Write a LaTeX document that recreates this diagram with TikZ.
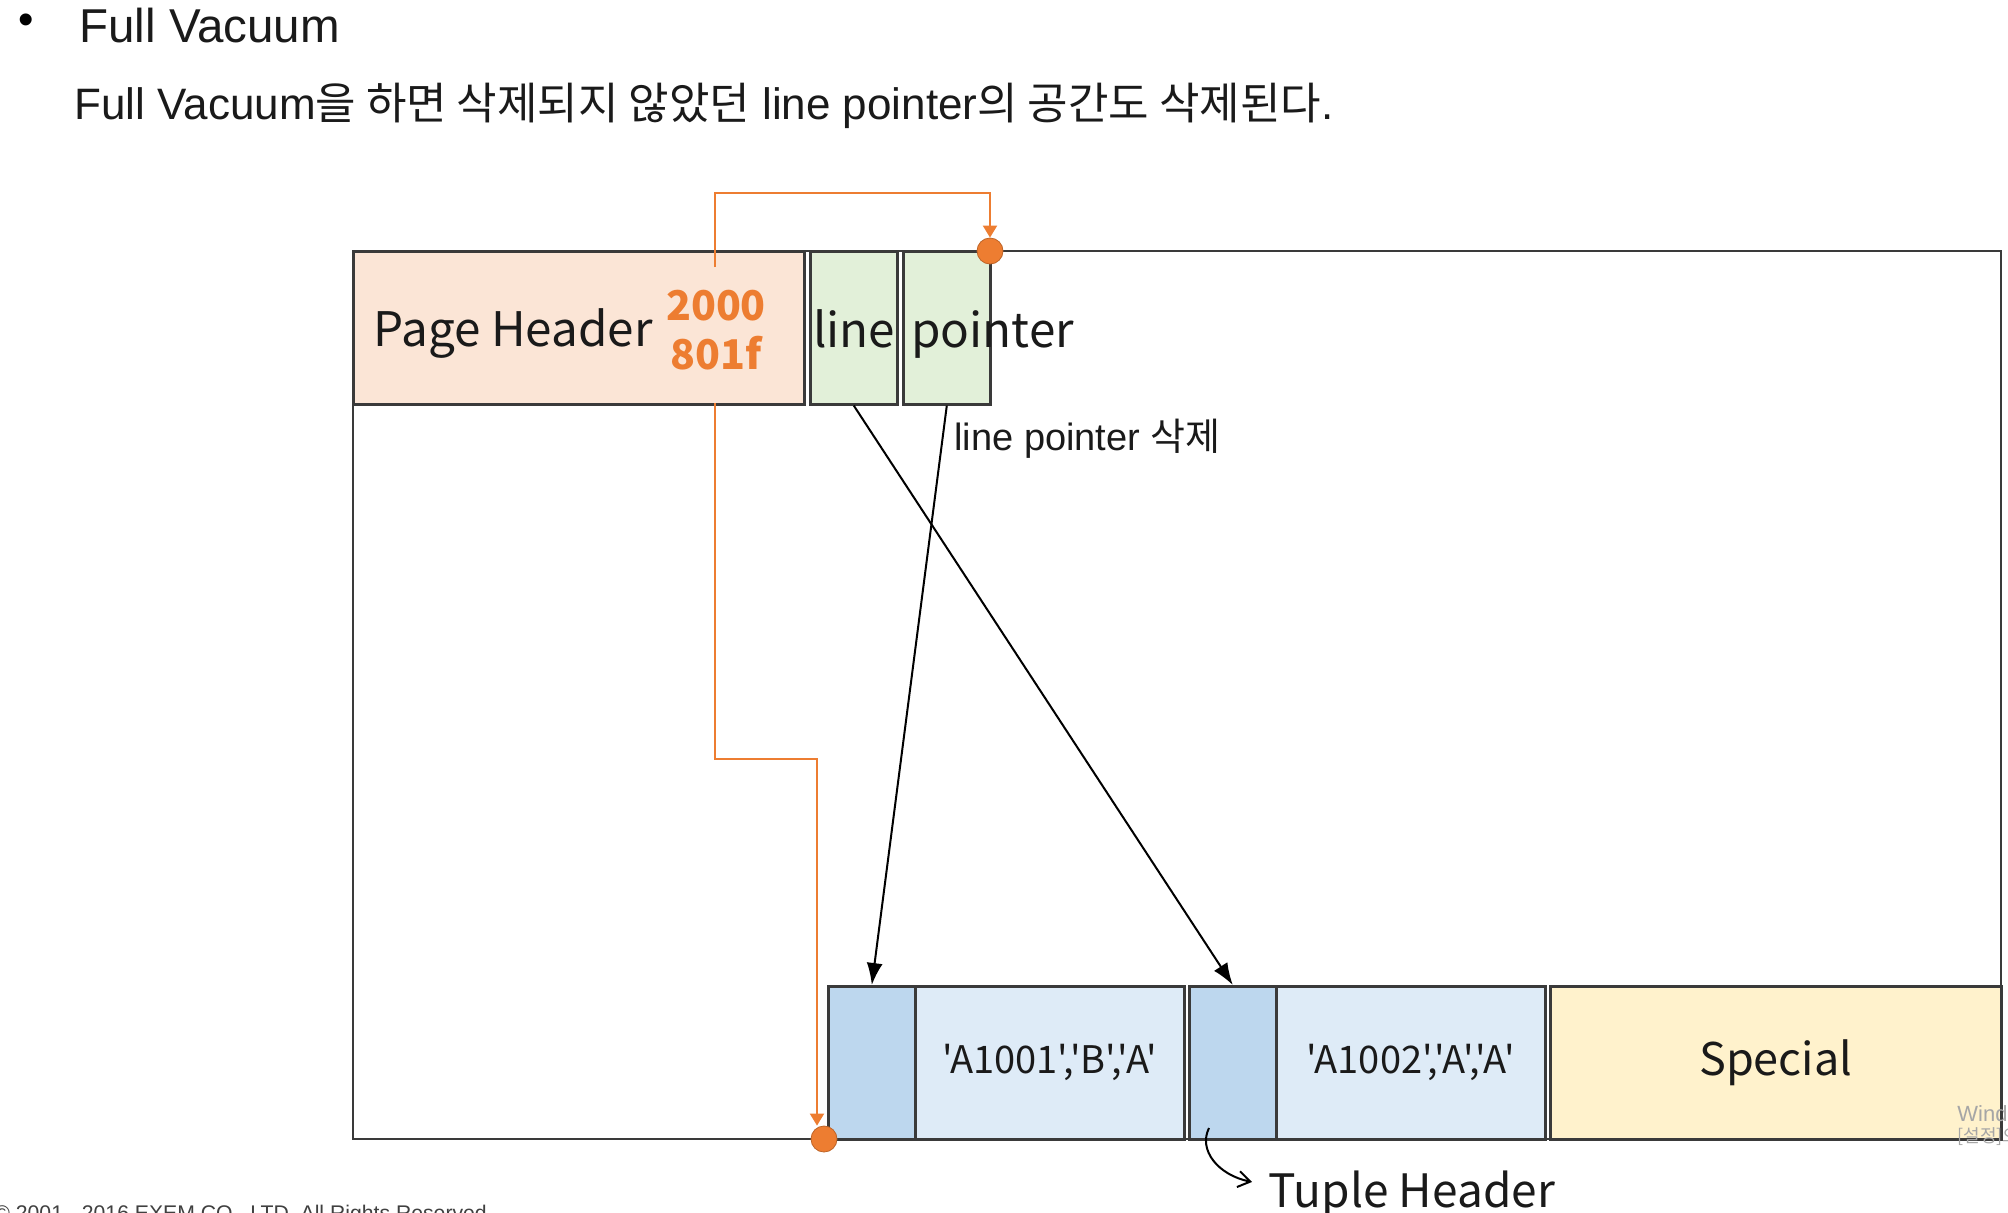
\documentclass[tikz,border=0pt]{standalone}
\usepackage{fontspec}
\setmainfont{Liberation Sans}
\newfontfamily\kr{Noto Sans CJK KR}
\newfontfamily\lib{Liberation Sans}
\usetikzlibrary{arrows.meta}
\definecolor{bordc}{HTML}{3A3A3A}
\definecolor{phfill}{HTML}{FBE5D6}
\definecolor{lpfill}{HTML}{E2F0D9}
\definecolor{thfill}{HTML}{BDD7EE}
\definecolor{dfill}{HTML}{DEEBF7}
\definecolor{spfill}{HTML}{FFF2CC}
\definecolor{orng}{HTML}{ED7D31}
\definecolor{txt}{HTML}{1A1A1A}
\tikzset{
  cell/.style={draw=bordc, line width=1.3pt, inner sep=0pt, anchor=north west, minimum height=76.5pt},
  dtext/.style={inner sep=0pt, text=txt, font=\kr\fontsize{23.8}{28}\selectfont},
  vtext/.style={inner sep=0pt, text=txt, font=\kr\fontsize{19}{22}\selectfont},
  otext/.style={inner sep=0pt, text=orng, font=\kr\bfseries\fontsize{20.5}{25}\selectfont},
  oline/.style={draw=orng, line width=1pt, -{Triangle[length=6pt,width=7pt]}},
  barrow/.style={draw=black, line width=1pt, -{Latex[length=11pt,width=8pt]}},
  odot/.style={circle, fill=orng, draw=orng!80!black, line width=0.4pt, minimum size=13pt, inner sep=0pt},
}
\begin{document}
\begin{tikzpicture}[x=0.5pt,y=-0.5pt]
\useasboundingbox (0,0) rectangle (2008,1212);
\clip (0,0) rectangle (2008,1212);
\fill[white] (0,0) rectangle (2008,1212);

% headings
\node[inner sep=0pt, font=\lib\fontsize{22}{24}\selectfont] (bul) at (26,24) {•};
\node[inner sep=0pt, anchor=base west, text=txt, font=\lib\fontsize{23.75}{28}\selectfont] (title) at (79,42) {Full Vacuum};
\node[inner sep=0pt, anchor=base west, text=txt, font=\lib\fontsize{22}{26}\selectfont] (sub) at (74,119) {Full Vacuum{\kr 을 하면 삭제되지 않았던} line pointer{\kr 의 공간도 삭제된다}.};

% page
\node[draw=bordc, line width=1.2pt, anchor=north west, inner sep=0pt, minimum width=824pt, minimum height=444pt] (page) at (352,250) {};

% top cells
\node[cell, fill=phfill, minimum width=225.5pt] (ph) at (352,250) {};
\node[cell, fill=lpfill, minimum width=43.5pt] (lp1) at (809,250) {};
\node[cell, fill=lpfill, minimum width=43.5pt] (lp2) at (902,250) {};

% bottom cells
\node[cell, fill=thfill, minimum width=43.5pt] (th1) at (827,985) {};
\node[cell, fill=dfill, minimum width=134.5pt] (d1) at (914,985) {};
\node[cell, fill=thfill, minimum width=43.5pt] (th2) at (1188,985) {};
\node[cell, fill=dfill, minimum width=134.5pt] (d2) at (1275,985) {};
\node[cell, fill=spfill, minimum width=225.5pt] (sp) at (1549,985) {};

% texts
\node[dtext, anchor=base west] (pht) at (373,346) {Page Header};
\node[otext, anchor=base] (n2000) at (716,320) {2000};
\node[otext, anchor=base] (n801f) at (716,369) {801f};
\node[dtext, anchor=base] (linet) at (854,347) {line};
\node[dtext, anchor=base west] (ptrt) at (911,347) {pointer};
\node[vtext] (v1) at (d1.center) {'A1001','B','A'};
\node[vtext] (v2) at (d2.center) {'A1002','A','A'};
\node[inner sep=0pt, text=txt, font=\kr\fontsize{22.5}{26}\selectfont] (spt) at (sp.center) {Special};
\node[inner sep=0pt, anchor=west, text=txt, font=\lib\fontsize{19}{22}\selectfont] (lbl) at (954,439) {line pointer {\kr 삭제}};
\node[inner sep=0pt, anchor=base west, text=txt, font=\kr\fontsize{23}{27}\selectfont] (tup) at (1268,1207) {Tuple Header};

% orange pointers
\coordinate (o1) at (715,267);
\coordinate (o2) at (715,403);
\node[odot] (c1) at (990,251) {};
\node[odot] (c2) at (824,1139) {};
\draw[oline] (o1) -- ++(0,-74) -| (c1.north);
\draw[oline] (o2) -- ++(0,356) -| ([xshift=-3.5pt]c2.north);

% black arrows
\draw[barrow] (lp1.south) -- (th2.north);
\draw[barrow] (lp2.south) -- (th1.north);

% tuple header arrow
\coordinate (ta) at (1209,1128);
\draw[line width=1pt, -{Straight Barb[length=6pt,width=8pt]}] (ta) .. controls (1198,1150) and (1218,1175) .. ([xshift=-8pt,yshift=6pt]tup.west);

% footer and overlay text
\node[inner sep=0pt, anchor=base west, text=black!75, font=\lib\fontsize{10.6}{12}\selectfont] (foot) at (-6,1220) {© 2001 - 2016 EXEM CO., LTD. All Rights Reserved};
\node[inner sep=0pt, anchor=base west, text=black!35, font=\lib\fontsize{11}{13}\selectfont] (win1) at (1957,1121) {Windows {\kr 정품 인증}};
\node[inner sep=0pt, anchor=base west, text=black!35, font=\kr\fontsize{9}{11}\selectfont] (win2) at (1957,1142) {[설정]으로 이동하여 Windows를 정품 인증합니다.};
\end{tikzpicture}
\end{document}
